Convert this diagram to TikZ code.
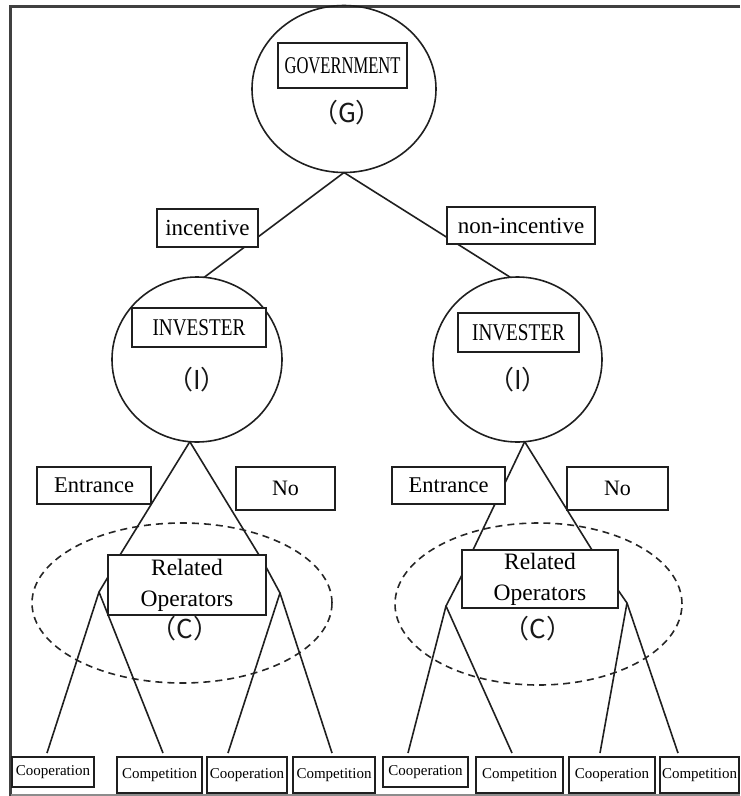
\documentclass[tikz,border=0pt]{standalone}
\usepackage{graphicx}
\usepackage{fontspec}
\setmainfont{Liberation Serif}
\newfontfamily\cjk{Noto Sans CJK SC}
\usetikzlibrary{shapes.geometric}
\begin{document}
\begin{tikzpicture}[x=1pt,y=-1pt,
  every node/.style={inner sep=0pt, outer sep=0pt},
  ln/.style={draw=black!88, line width=1.6pt},
  oval/.style={ellipse, draw=black!88, line width=1.6pt},
  lbl/.style={draw=black!88, line width=1.6pt, fill=white, font=\fontsize{23}{28}\selectfont},
  titlebox/.style={draw=black!88, line width=1.6pt, fill=white},
  pl/.style={font=\cjk\fontsize{26}{30}\selectfont, text=black!90},
  leaf/.style={draw=black!88, line width=1.6pt, fill=white, font=\fontsize{15}{17}\selectfont},
  grp/.style={ellipse, draw=black!85, line width=1.6pt, dash pattern=on 7pt off 5pt},
]
\useasboundingbox (0,0) rectangle (740,796);
% frame
\draw[draw=black!75, line width=2.5pt] (740,6.5) -- (10.5,6.5) -- (10.5,796);
\draw[draw=black!45, line width=1.5pt] (10.5,795) -- (740,795);

% government
\node[oval, minimum width=184pt, minimum height=167pt] (G) at (344,89) {};
\node[titlebox, minimum width=129pt, minimum height=45pt, font=\fontsize{24}{28}\selectfont] (Gt) at (342.5,65.5) {\scalebox{0.69}[1]{GOVERNMENT}};
\node[pl] (Gp) at (347,113) {（G）};

% investers
\node[oval, minimum width=170pt, minimum height=165pt] (IL) at (197,359.5) {};
\node[titlebox, minimum width=134pt, minimum height=39pt, font=\fontsize{24}{28}\selectfont] (ILt) at (199,327.5) {\scalebox{0.8}[1]{INVESTER}};
\node[pl] (ILp) at (197,380) {（I）};
\node[oval, minimum width=169pt, minimum height=165pt] (IR) at (517.5,359.5) {};
\node[titlebox, minimum width=121pt, minimum height=39pt, font=\fontsize{24}{28}\selectfont] (IRt) at (518.5,332.5) {\scalebox{0.8}[1]{INVESTER}};
\node[pl] (IRp) at (518,380) {（I）};

% dashed groups
\node[grp, minimum width=300pt, minimum height=160pt] (EL) at (182,603) {};
\node[grp, minimum width=287pt, minimum height=162pt] (ER) at (538.5,604) {};

% related operators
\node[titlebox, minimum width=158pt, minimum height=60pt, align=center, font=\fontsize{23.5}{31}\selectfont] (RL) at (187,585) {Related\\Operators};
\node[pl] (RLp) at (185,629) {（C）};
\node[titlebox, minimum width=156pt, minimum height=58pt, align=center, font=\fontsize{23.5}{31}\selectfont] (RR) at (540,579) {Related\\Operators};
\node[pl] (RRp) at (538,629) {（C）};

% leaves
\node[leaf, minimum width=82pt, minimum height=30pt] (B1) at (53,772) {Cooperation};
\node[leaf, minimum width=85pt, minimum height=36pt] (B2) at (159.5,775) {Competition};
\node[leaf, minimum width=80pt, minimum height=36pt] (B3) at (247,775) {Cooperation};
\node[leaf, minimum width=82pt, minimum height=36pt] (B4) at (334,775) {Competition};
\node[leaf, minimum width=85pt, minimum height=30pt] (B5) at (425.5,772) {Cooperation};
\node[leaf, minimum width=87pt, minimum height=36pt] (B6) at (519.5,775) {Competition};
\node[leaf, minimum width=86pt, minimum height=36pt] (B7) at (612,775) {Cooperation};
\node[leaf, minimum width=79pt, minimum height=36pt] (B8) at (699.5,775) {Competition};

% branching points
\coordinate (la) at (99,592);
\coordinate (lb) at (280,593);
\coordinate (ra) at (446,606);
\coordinate (rb) at (627,603);

% connectors
\draw[ln] (G.south) -- (IL.85);
\draw[ln] (G.south) -- (IR.95);
\draw[ln] (IL.265) -- ([xshift=12pt]RL.north west);
\draw[ln] (IL.265) -- ([xshift=-7pt]RL.north east);
\draw[ln] (IR.275) -- ([xshift=11pt]RR.north west);
\draw[ln] (IR.275) -- ([xshift=-26pt]RR.north east);

\draw[ln] ([yshift=-22pt]RL.north west) -- (la) -- ([shift={(-6pt,4pt)}]B1.north);
\draw[ln] (la) -- ([shift={(3.5pt,4pt)}]B2.north);
\draw[ln] ([yshift=-12pt]RL.north east) -- (lb) -- ([shift={(-2pt,4pt)}]B4.north);
\draw[ln] (lb) -- ([shift={(-19pt,4pt)}]B3.north);
\draw[ln] ([yshift=-25pt]RR.north west) -- (ra) -- ([shift={(-17.5pt,4pt)}]B5.north);
\draw[ln] (ra) -- ([shift={(-7.5pt,4pt)}]B6.north);
\draw[ln] ([yshift=-40pt]RR.north east) -- (rb) -- ([shift={(-21.5pt,4pt)}]B8.north);
\draw[ln] (rb) -- ([shift={(-12pt,4pt)}]B7.north);

% labels on / beside branches
\node[lbl, minimum width=101pt, minimum height=38pt] (inc) at (207.5,228) {incentive};
\node[lbl, minimum width=148pt, minimum height=37pt] (ninc) at (521,225.5) {non-incentive};
\node[lbl, minimum width=114pt, minimum height=37pt, font=\fontsize{22.5}{27}\selectfont] (EnL) at (94,485.5) {Entrance};
\node[lbl, minimum width=99pt, minimum height=43pt, font=\fontsize{22}{27}\selectfont] (NoL) at (285.5,488.5) {No};
\node[lbl, minimum width=113pt, minimum height=37pt, font=\fontsize{22.5}{27}\selectfont] (EnR) at (448.5,485.5) {Entrance};
\node[lbl, minimum width=101pt, minimum height=43pt, font=\fontsize{22}{27}\selectfont] (NoR) at (617.5,488.5) {No};
\end{tikzpicture}
\end{document}
